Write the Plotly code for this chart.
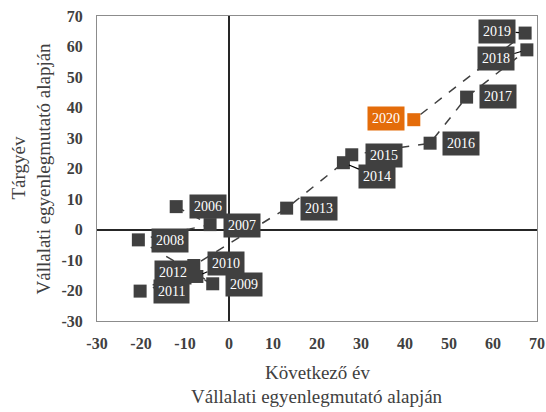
import plotly.graph_objects as go

# adatok (leolvasva az ábráról)
years = ["2006", "2007", "2008", "2009", "2010", "2011", "2012", "2013",
         "2014", "2015", "2016", "2017", "2018", "2019", "2020"]
next_year = [-12.0, -4.3, -20.6, -3.7, -7.3, -20.2, -8.0, 13.1,
             26.0, 27.9, 45.7, 54.0, 67.7, 67.3, 42.0]
this_year = [7.5, 1.6, -3.4, -17.8, -15.4, -20.2, -11.8, 7.0,
             21.9, 24.5, 28.3, 43.4, 58.9, 64.4, 36.0]
x_ticks = [-30, -20, -10, 0, 10, 20, 30, 40, 50, 60, 70]
y_ticks = [-30, -20, -10, 0, 10, 20, 30, 40, 50, 60, 70]
x_title = ["Következő év", "Vállalati egyenlegmutató alapján"]
y_title = ["Tárgyév", "Vállalati egyenlegmutató alapján"]

# címke eltolások (pixel) és vezetővonalak
label_dx = [32, 32, 32, 31, 29, 31, -21, 32, 34, 32, 31, 31, -31, -28, -28]
label_dy = [0, -1, -1, -1, 13, 0, -7, 0, -14, -1, 0, 1, -9, 2, 1]
leader = [False, False, False, False, True, False, False, False,
          True, False, False, False, True, True, False]

DARK = '#404040'
ORANGE = '#E46C0A'
FONT = 'Liberation Serif'

colors = [ORANGE if y == "2020" else DARK for y in years]

fig = go.Figure()

fig.add_trace(go.Scatter(
    x=next_year,
    y=this_year,
    mode='lines+markers',
    line=dict(color=DARK, width=1.5, dash='dash'),
    marker=dict(symbol='square', size=13, color=colors),
    showlegend=False,
    hoverinfo='skip',
))

# évszám címkék
for yr, xv, yv, dx, dy, ld, c in zip(years, next_year, this_year,
                                     label_dx, label_dy, leader, colors):
    common = dict(
        x=xv, y=yv, text=yr,
        font=dict(family=FONT, size=14, color='white'),
        bgcolor=c, borderpad=4,
        xanchor='center', yanchor='middle',
    )
    if ld:
        fig.add_annotation(showarrow=True, arrowhead=0, arrowwidth=1.2,
                           arrowcolor='black', ax=dx, ay=-dy, standoff=6,
                           **common)
    else:
        fig.add_annotation(showarrow=False, xshift=dx, yshift=dy, **common)

# tengelycímek (két sor, külön)
title_font = dict(family=FONT, size=19, color=DARK)
for i, t in enumerate(x_title):
    fig.add_annotation(text=t, xref='paper', yref='paper', x=0.5, y=0,
                       xanchor='center', yanchor='middle',
                       yshift=-51 - 24 * i, showarrow=False, font=title_font)
for i, t in enumerate(y_title):
    fig.add_annotation(text=t, xref='paper', yref='paper', x=0, y=0.5,
                       xanchor='center', yanchor='middle', textangle=-90,
                       xshift=-79 + 25 * i, showarrow=False, font=title_font)

axis_common = dict(
    showgrid=False,
    zeroline=True, zerolinecolor='#262626', zerolinewidth=1.5,
    showline=True, linecolor='#8c8c8c', linewidth=1, mirror=True,
    ticks='', automargin=False, ticklabeloverflow='allow',
    tickfont=dict(family=FONT, size=16, color=DARK, weight='bold'),
)

fig.update_xaxes(range=[-30, 70], tickvals=x_ticks,
                 ticktext=[str(t) for t in x_ticks],
                 ticklabelstandoff=8, **axis_common)
fig.update_yaxes(range=[-30, 70], tickvals=y_ticks,
                 ticktext=[str(t) for t in y_ticks],
                 ticklabelstandoff=10, **axis_common)

fig.update_layout(
    width=546, height=412,
    margin=dict(l=97, r=9, t=16, b=91),
    plot_bgcolor='white', paper_bgcolor='white',
)

# body margó nélkül, hogy az ábra pontosan kitöltse az ablakot
fig.write_html("out.html",
               config={'displayModeBar': False},
               post_script="document.body.style.margin='0';"
                           "document.body.style.overflow='hidden';")
